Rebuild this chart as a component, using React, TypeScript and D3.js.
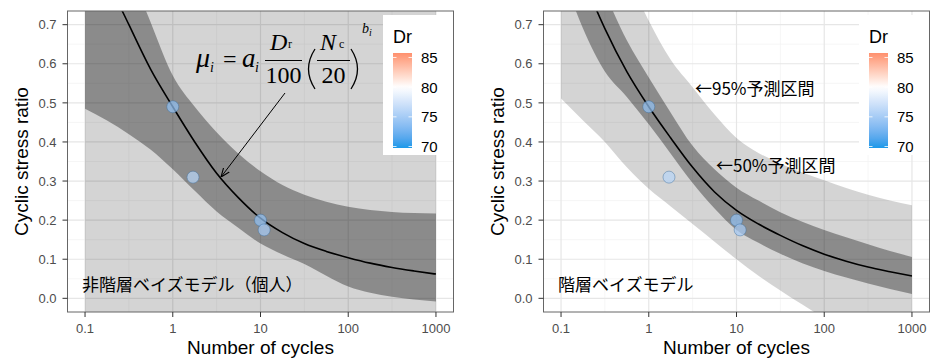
import React from 'react';
import * as d3 from 'd3';

// ---------- data ----------
const cycles = [0.1, 0.178, 0.316, 0.562, 1, 1.78, 3.16, 5.62, 10, 17.8, 31.6, 56.2, 100, 178, 316, 562, 1000];

const leftMean = [0.97, 0.82, 0.70, 0.585, 0.49, 0.40, 0.32, 0.257, 0.205, 0.168, 0.14, 0.12, 0.104, 0.09, 0.079, 0.07, 0.062];
const leftUpper50 = [1.3, 1.05, 0.85, 0.705, 0.57, 0.49, 0.425, 0.37, 0.325, 0.29, 0.265, 0.247, 0.234, 0.226, 0.221, 0.218, 0.217];
const leftLower50 = [0.485, 0.455, 0.42, 0.38, 0.33, 0.275, 0.222, 0.18, 0.14, 0.112, 0.088, 0.058, 0.03, 0.014, 0.004, -0.003, -0.008];
const leftUpper95 = [2.0, 1.9, 1.8, 1.7, 1.6, 1.5, 1.4, 1.3, 1.2, 1.12, 1.05, 1.0, 0.95, 0.9, 0.87, 0.84, 0.82];
const leftLower95 = [-0.08, -0.09, -0.1, -0.11, -0.12, -0.13, -0.14, -0.15, -0.16, -0.18, -0.2, -0.22, -0.24, -0.26, -0.28, -0.3, -0.32];

const rightMean = [0.97, 0.82, 0.69, 0.58, 0.49, 0.41, 0.335, 0.272, 0.225, 0.19, 0.161, 0.135, 0.113, 0.095, 0.08, 0.068, 0.057];
const rightUpper50 = [1.05, 0.9, 0.78, 0.66, 0.565, 0.475, 0.39, 0.33, 0.283, 0.25, 0.22, 0.196, 0.175, 0.156, 0.138, 0.121, 0.106];
const rightLower50 = [0.84, 0.69, 0.58, 0.515, 0.445, 0.37, 0.295, 0.23, 0.175, 0.142, 0.114, 0.09, 0.07, 0.053, 0.038, 0.024, 0.011];
const rightUpper95 = [1.3, 1.1, 0.95, 0.83, 0.71, 0.61, 0.54, 0.47, 0.41, 0.372, 0.345, 0.322, 0.302, 0.282, 0.265, 0.25, 0.238];
const rightLower95 = [0.511, 0.455, 0.4, 0.335, 0.28, 0.235, 0.19, 0.145, 0.1, 0.058, 0.02, -0.016, -0.05, -0.076, -0.1, -0.125, -0.15];

const obsCycles = [1, 1.7, 10, 11];
const obsCsr = [0.49, 0.31, 0.2, 0.175];
const obsDr = [74, 76, 74, 75];

const xTicks = [0.1, 1, 10, 100, 1000];
const xTickLabels = ['0.1', '1', '10', '100', '1000'];
const xMinor = [0.316, 3.16, 31.6, 316];
const yTicks = [0, 0.1, 0.2, 0.3, 0.4, 0.5, 0.6, 0.7];
const yTickLabels = ['0.0', '0.1', '0.2', '0.3', '0.4', '0.5', '0.6', '0.7'];
const yMinor = [0.05, 0.15, 0.25, 0.35, 0.45, 0.55, 0.65];
const legendBreaks = [70, 75, 80, 85];

// ---------- layout ----------
const W = 930, H = 358;
const TOP = 11, BOTTOM = 312;
const SANS = '"Liberation Sans", Arial, sans-serif';
const CJK = '"Noto Sans CJK JP", sans-serif';
const SERIF = '"Liberation Serif", "Times New Roman", serif';

const yScale = d3.scaleLinear().domain([-0.035, 0.735]).range([BOTTOM, TOP]);

const drColor = (v: number) =>
  v <= 80
    ? d3.interpolateLab('#1B9AEA', '#ffffff')((v - 70) / 10)
    : d3.interpolateLab('#ffffff', '#ff0000')((v - 80) / 10);

type PanelProps = {
  id: number;
  x0: number;
  x1: number;
  mean: number[];
  up50: number[];
  lo50: number[];
  up95: number[];
  lo95: number[];
  label: string;
  children?: React.ReactNode;
};

function Legend({ x, id }: { x: number; id: number }) {
  const barTop = 53, barBot = 148;
  const ls = d3.scaleLinear().domain([70, 85]).range([146.5, 57.5]);
  const stops = d3.range(0, 21).map((i) => {
    const t = i / 20;
    const yy = barTop + t * (barBot - barTop);
    const v = Math.max(70, Math.min(90, ls.invert(yy)));
    return { off: t, col: drColor(v) };
  });
  return (
    <g>
      <defs>
        <linearGradient id={`grad${id}`} x1="0" y1="0" x2="0" y2="1">
          {stops.map((s, i) => (
            <stop key={i} offset={s.off} stopColor={s.col} />
          ))}
        </linearGradient>
      </defs>
      <rect x={x - 10} y={15} width={70} height={140} fill="white" />
      <text x={x} y={43} fontFamily={SANS} fontSize={18} fill="#000">Dr</text>
      <rect x={x} y={barTop} width={19} height={barBot - barTop} fill={`url(#grad${id})`} />
      {legendBreaks.map((b) => (
        <g key={b}>
          <line x1={x} x2={x + 3.5} y1={ls(b)} y2={ls(b)} stroke="white" strokeWidth={0.8} />
          <line x1={x + 15.5} x2={x + 19} y1={ls(b)} y2={ls(b)} stroke="white" strokeWidth={0.8} />
          <text x={x + 28} y={ls(b)} dy="0.36em" fontFamily={SANS} fontSize={15} fill="#000">{b}</text>
        </g>
      ))}
    </g>
  );
}

function Panel(p: PanelProps) {
  const x = d3.scaleLog().domain([Math.pow(10, -1.2), Math.pow(10, 3.2)]).range([p.x0, p.x1]);
  const idx = cycles.map((_, i) => i);
  const area = (up: number[], lo: number[]) =>
    d3.area<number>()
      .x((i) => x(cycles[i]))
      .y0((i) => yScale(lo[i]))
      .y1((i) => yScale(up[i]))
      .curve(d3.curveMonotoneX)(idx) as string;
  const line = d3.line<number>()
    .x((i) => x(cycles[i]))
    .y((i) => yScale(p.mean[i]))
    .curve(d3.curveMonotoneX)(idx) as string;
  const cx = (p.x0 + p.x1) / 2;
  return (
    <g>
      <defs>
        <clipPath id={`clip${p.id}`}>
          <rect x={p.x0} y={TOP} width={p.x1 - p.x0} height={BOTTOM - TOP} />
        </clipPath>
      </defs>
      <rect x={p.x0} y={TOP} width={p.x1 - p.x0} height={BOTTOM - TOP} fill="white" />
      {xMinor.map((v) => (
        <line key={'xm' + v} x1={x(v)} x2={x(v)} y1={TOP} y2={BOTTOM} stroke="#F2F2F2" strokeWidth={0.7} />
      ))}
      {yMinor.map((v) => (
        <line key={'ym' + v} x1={p.x0} x2={p.x1} y1={yScale(v)} y2={yScale(v)} stroke="#F2F2F2" strokeWidth={0.7} />
      ))}
      {xTicks.map((v) => (
        <line key={'xg' + v} x1={x(v)} x2={x(v)} y1={TOP} y2={BOTTOM} stroke="#E6E6E6" strokeWidth={1.2} />
      ))}
      {yTicks.map((v) => (
        <line key={'yg' + v} x1={p.x0} x2={p.x1} y1={yScale(v)} y2={yScale(v)} stroke="#E6E6E6" strokeWidth={1.2} />
      ))}
      <g clipPath={`url(#clip${p.id})`}>
        <path d={area(p.up95, p.lo95)} fill="#000" fillOpacity={0.17} />
        <path d={area(p.up50, p.lo50)} fill="#000" fillOpacity={0.34} />
        <path d={line} fill="none" stroke="#000" strokeWidth={1.6} />
        {obsCycles.map((c, i) => (
          <circle key={i} cx={x(c)} cy={yScale(obsCsr[i])} r={6}
            fill={drColor(obsDr[i])} fillOpacity={0.72}
            stroke="#3E6E9E" strokeOpacity={0.5} strokeWidth={0.9} />
        ))}
      </g>
      <text x={p.id === 0 ? 82 : 558} y={291} fontFamily={CJK} fontSize={17} fill="#000">{p.label}</text>
      {p.children}
      <Legend x={p.x1 - 60.5} id={p.id} />
      <rect x={p.x0} y={TOP} width={p.x1 - p.x0} height={BOTTOM - TOP} fill="none" stroke="#666" strokeWidth={1} />
      {yTicks.map((v, i) => (
        <g key={'yt' + v}>
          <line x1={p.x0 - 5} x2={p.x0} y1={yScale(v)} y2={yScale(v)} stroke="#333" strokeWidth={1} />
          <text x={p.x0 - 11} y={yScale(v)} dy="0.36em" textAnchor="end" fontFamily={SANS} fontSize={13} fill="#4D4D4D">{yTickLabels[i]}</text>
        </g>
      ))}
      {xTicks.map((v, i) => (
        <g key={'xt' + v}>
          <line x1={x(v)} x2={x(v)} y1={BOTTOM} y2={BOTTOM + 5} stroke="#333" strokeWidth={1} />
          <text x={x(v)} y={332.5} textAnchor="middle" fontFamily={SANS} fontSize={13} fill="#4D4D4D">{xTickLabels[i]}</text>
        </g>
      ))}
      <text x={cx} y={354} textAnchor="middle" fontFamily={SANS} fontSize={19} fill="#000">Number of cycles</text>
      <text transform={`translate(${p.x0 - 40},${(TOP + BOTTOM) / 2}) rotate(-90)`} textAnchor="middle" fontFamily={SANS} fontSize={19} fill="#000">Cyclic stress ratio</text>
    </g>
  );
}

function Formula() {
  return (
    <g fontFamily={SERIF} fill="#000">
      <text x={196} y={67} fontSize={28} fontStyle="italic">μ</text>
      <text x={210} y={72} fontSize={14} fontStyle="italic">i</text>
      <text x={223} y={67} fontSize={24}>=</text>
      <text x={242} y={67} fontSize={27} fontStyle="italic">a</text>
      <text x={255} y={72} fontSize={14} fontStyle="italic">i</text>
      <text x={270} y={50} fontSize={24} fontStyle="italic">D</text>
      <text x={288} y={48} fontSize={12}>r</text>
      <line x1={265} x2={302} y1={60.5} y2={60.5} stroke="#000" strokeWidth={1} />
      <text x={283.5} y={83} fontSize={24} textAnchor="middle">100</text>
      <path d="M315,49 Q302,69 315,89" fill="none" stroke="#000" strokeWidth={1.3} />
      <text x={320} y={50} fontSize={24} fontStyle="italic">N</text>
      <text x={339} y={48} fontSize={12}>c</text>
      <line x1={317} x2={350} y1={60.5} y2={60.5} stroke="#000" strokeWidth={1} />
      <text x={333.5} y={83} fontSize={24} textAnchor="middle">20</text>
      <path d="M351,49 Q364,69 351,89" fill="none" stroke="#000" strokeWidth={1.3} />
      <text x={362} y={33} fontSize={14} fontStyle="italic">b</text>
      <text x={369} y={36} fontSize={10} fontStyle="italic">i</text>
    </g>
  );
}

export default function App() {
  return (
    <svg width={W} height={H} viewBox={`0 0 ${W} ${H}`} style={{ position: 'absolute', left: 0, top: 0, background: 'white' }}>
      <defs>
        <marker id="arrowOpen" viewBox="0 0 10 10" refX={10} refY={5} markerWidth={9} markerHeight={9}
          markerUnits="userSpaceOnUse" orient="auto">
          <path d="M0,1 L10,5 L0,9" fill="none" stroke="#000" strokeWidth={1.2} />
        </marker>
      </defs>
      <rect x={0} y={0} width={W} height={H} fill="white" />
      <Panel id={0} x0={67.5} x1={453.5} mean={leftMean} up50={leftUpper50} lo50={leftLower50}
        up95={leftUpper95} lo95={leftLower95} label="非階層ベイズモデル（個人）">
        <Formula />
        <line x1={285} y1={93} x2={221} y2={177} stroke="#000" strokeWidth={1} markerEnd="url(#arrowOpen)" />
      </Panel>
      <Panel id={1} x0={543.5} x1={929.5} mean={rightMean} up50={rightUpper50} lo50={rightLower50}
        up95={rightUpper95} lo95={rightLower95} label="階層ベイズモデル">
        <text x={695} y={95} fontFamily={CJK} fontSize={17} fill="#000">←95%予測区間</text>
        <text x={716} y={171.5} fontFamily={CJK} fontSize={17} fill="#000">←50%予測区間</text>
      </Panel>
    </svg>
  );
}
